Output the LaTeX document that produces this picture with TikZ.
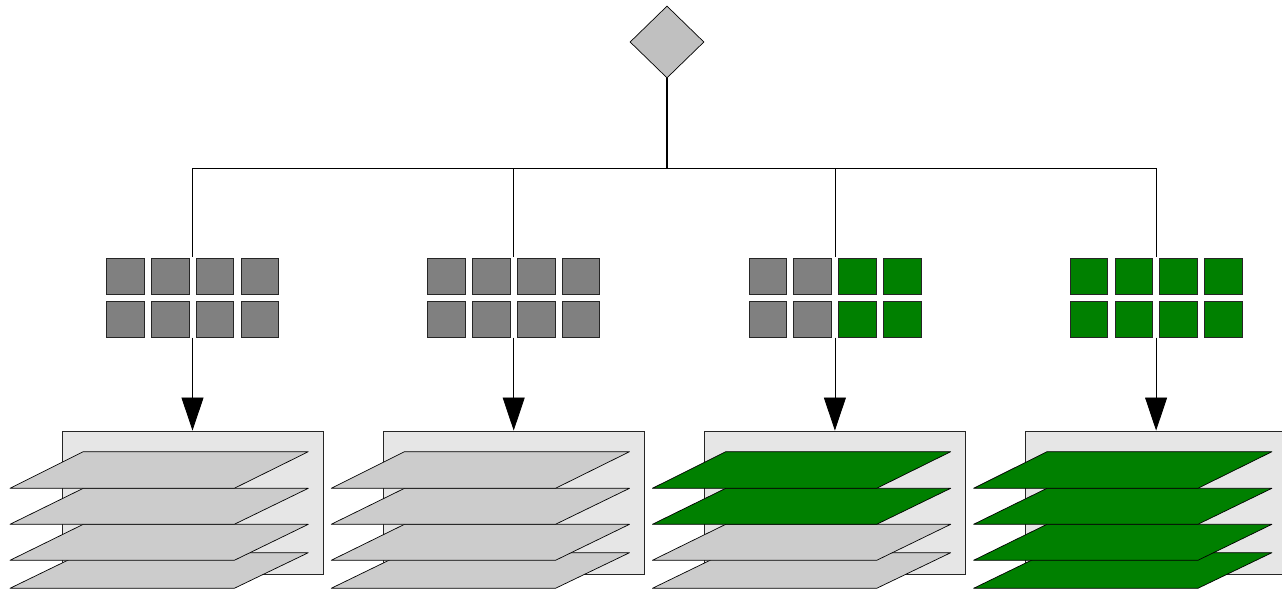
\documentclass[tikz,border=0pt]{standalone}
\usetikzlibrary{shapes.geometric,arrows.meta}
\definecolor{sqgray}{HTML}{808080}
\definecolor{sqgreen}{HTML}{008000}
\definecolor{layergray}{HTML}{CCCCCC}
\definecolor{boxgray}{HTML}{E6E6E6}
\definecolor{diagray}{HTML}{C0C0C0}
\begin{document}
\begin{tikzpicture}[x=1pt,y=-1pt,
  conn/.style={draw=black,line width=0.8pt},
  cell/.style={draw=black!85, line width=0.7pt, minimum width=37.6pt, minimum height=36pt, inner sep=0pt},
  tray/.style={draw=black!85, line width=0.7pt, fill=boxgray, minimum width=261pt, minimum height=143pt, inner sep=0pt},
  layer/.style={draw=black, line width=0.7pt, line join=round},
  bigarrow/.style={-{Triangle[width=22pt,length=33pt]}}]
\useasboundingbox (0,0) rectangle (1282,589);
\node[diamond, draw, fill=diagray, minimum width=74pt, minimum height=72pt, inner sep=0pt, line width=0.7pt] (root) at (667,42) {};
\coordinate (hub) at (667,168);
\draw[line width=1.6pt] (root.south) -- (hub);
\foreach \i/\cA/\cB/\lA/\lB in {1/sqgray/sqgray/layergray/layergray,
                                2/sqgray/sqgray/layergray/layergray,
                                3/sqgray/sqgreen/sqgreen/layergray,
                                4/sqgreen/sqgreen/sqgreen/sqgreen}{
  \pgfmathsetmacro\cx{192.5+321.2*(\i-1)}
  \coordinate (j\i) at (\cx,168);
  \node[minimum width=172pt, minimum height=80pt, inner sep=0pt] (grid\i) at (\cx,297.5) {};
  \foreach \r/\y in {1/276,2/319}{
    \foreach \c/\dx/\col in {1/-67.2/\cA,2/-22.4/\cA,3/22.4/\cB,4/67.2/\cB}{
      \node[cell, fill=\col] (s\i-\r-\c) at (\cx+\dx,\y) {};
    }
  }
  \node[tray] (box\i) at (\cx,502.4) {};
  \filldraw[layer, fill=\lB] (\cx-182.5,588.3) -- (\cx+41.8,588.3) -- (\cx+115.8,552.7) -- (\cx-109.2,552.7) -- cycle;
  \filldraw[layer, fill=\lB] (\cx-182.5,560.3) -- (\cx+41.8,560.3) -- (\cx+115.8,524.3) -- (\cx-109.2,524.3) -- cycle;
  \filldraw[layer, fill=\lA] (\cx-182.5,524.3) -- (\cx+41.8,524.3) -- (\cx+115.8,488.3) -- (\cx-109.2,488.3) -- cycle;
  \filldraw[layer, fill=\lA] (\cx-182.5,488.3) -- (\cx+41.8,488.3) -- (\cx+115.8,451.7) -- (\cx-109.2,451.7) -- cycle;
  \draw[conn] (j\i) -- (grid\i.north);
  \draw[conn, bigarrow] (grid\i.south) -- (box\i.north);
}
\draw[conn] (j1) -- (j4);
\end{tikzpicture}
\end{document}
